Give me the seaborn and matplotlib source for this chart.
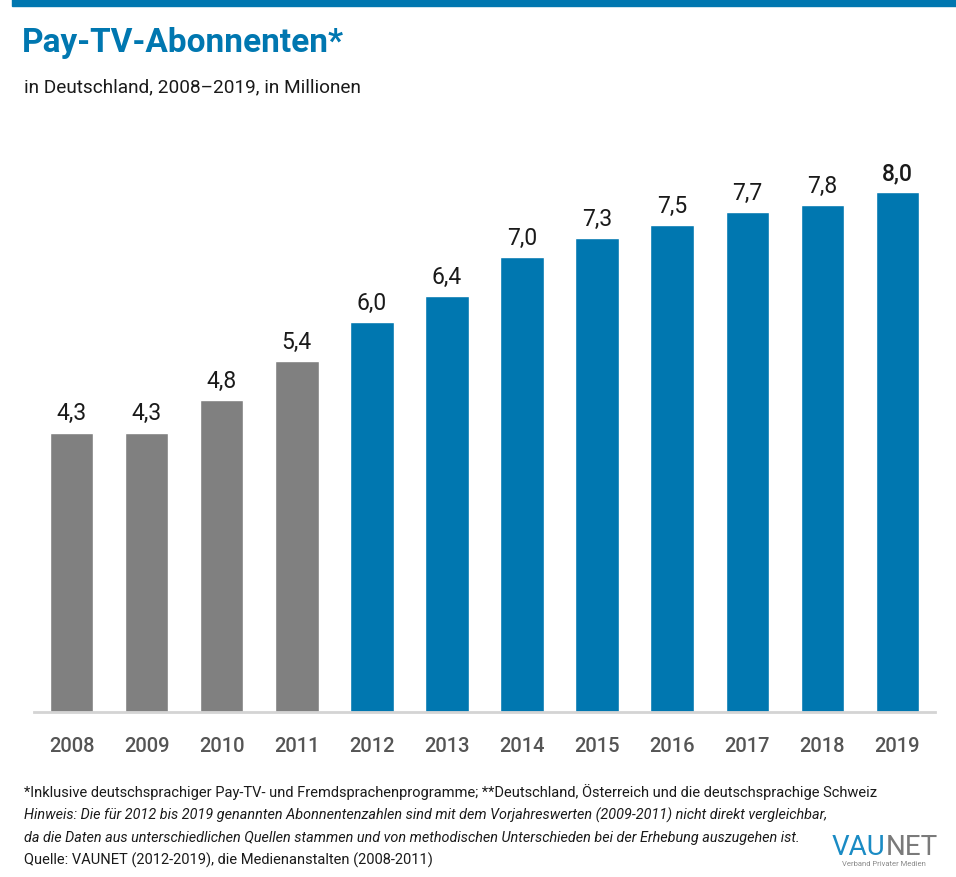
import matplotlib
matplotlib.use("Agg")
import matplotlib.pyplot as plt
from matplotlib.patches import Rectangle
import seaborn as sns
import pandas as pd

# Pay-TV subscribers in Germany, millions
years = ["2008", "2009", "2010", "2011", "2012", "2013",
         "2014", "2015", "2016", "2017", "2018", "2019"]
subscribers = [4.3, 4.3, 4.8, 5.4, 6.0, 6.4, 7.0, 7.3, 7.5, 7.7, 7.8, 8.0]
source = ["Medienanstalten"] * 4 + ["VAUNET"] * 8

BLUE = "#0077b0"
GRAY = "#808080"

sns.set_style("white")
plt.rcParams["font.family"] = ["Roboto", "DejaVu Sans"]

df = pd.DataFrame({"year": years, "value": subscribers, "source": source})

fig = plt.figure(figsize=(9.56, 8.78), dpi=100)
ax = fig.add_axes([34 / 956, 165 / 878, 901 / 956, 552 / 878])

sns.barplot(data=df, x="year", y="value", hue="source",
            palette={"Medienanstalten": GRAY, "VAUNET": BLUE},
            dodge=False, width=0.58, saturation=1, legend=False, ax=ax)

# value labels, German decimal comma
for cont in ax.containers:
    labels = [f"{b.get_height():.1f}".replace(".", ",") for b in cont]
    texts = ax.bar_label(cont, labels=labels, padding=6, fontsize=16.5, color="#1a1a1a")
    for t in texts:
        if t.get_text() == "8,0":
            t.set_fontweight("medium")

ax.set_xlim(-0.5, 11.5)
ax.set_ylim(0, 8.5)
ax.set_xlabel("")
ax.set_ylabel("")
ax.set_yticks([])
sns.despine(ax=ax, left=True)
ax.spines["bottom"].set_color("#d4d4d4")
ax.spines["bottom"].set_linewidth(2)
ax.tick_params(axis="x", length=0, pad=17, labelsize=14.5, labelcolor="#555555")
for lbl in ax.get_xticklabels():
    lbl.set_fontweight("medium")

# header
fig.patches.append(Rectangle((12 / 956, 1 - 7 / 878), 1, 7 / 878,
                             transform=fig.transFigure, color=BLUE, zorder=0))
fig.text(22 / 956, 1 - 52 / 878, "Pay-TV-Abonnenten*", fontsize=24,
         fontweight="bold", color=BLUE, va="baseline")
fig.text(24 / 956, 1 - 92 / 878, "in Deutschland, 2008–2019, in Millionen",
         fontsize=13.7, color="#1a1a1a", va="baseline")

# footnotes
fig.text(24 / 956, 1 - 797 / 878,
         "*Inklusive deutschsprachiger Pay-TV- und Fremdsprachenprogramme; "
         "**Deutschland, Österreich und die deutschsprachige Schweiz",
         fontsize=10.5, color="#1a1a1a", va="baseline")
fig.text(24 / 956, 1 - 820 / 878,
         "Hinweis: Die für 2012 bis 2019 genannten Abonnentenzahlen sind mit dem "
         "Vorjahreswerten (2009-2011) nicht direkt vergleichbar,",
         fontsize=10.35, style="italic", color="#1a1a1a", va="baseline")
fig.text(24 / 956, 1 - 842 / 878,
         "da die Daten aus unterschiedlichen Quellen stammen und von methodischen "
         "Unterschieden bei der Erhebung auszugehen ist.",
         fontsize=10.35, style="italic", color="#1a1a1a", va="baseline")
fig.text(24 / 956, 1 - 865 / 878,
         "Quelle: VAUNET (2012-2019), die Medienanstalten (2008-2011)",
         fontsize=10.5, color="#1a1a1a", va="baseline")

# logo
t_vau = fig.text(832 / 956, 1 - 855 / 878, "VAU", fontsize=20, color="#1a8bc4",
                 va="baseline")
ax.annotate("NET", xy=(1, 0), xycoords=t_vau, fontsize=20, color="#7a7a7a",
            va="bottom", annotation_clip=False)
fig.text(884 / 956, 1 - 866 / 878, "Verband Privater Medien", fontsize=5.5,
         color="#8a8a8a", ha="center", va="baseline")

fig.savefig("out.png", dpi=100)
